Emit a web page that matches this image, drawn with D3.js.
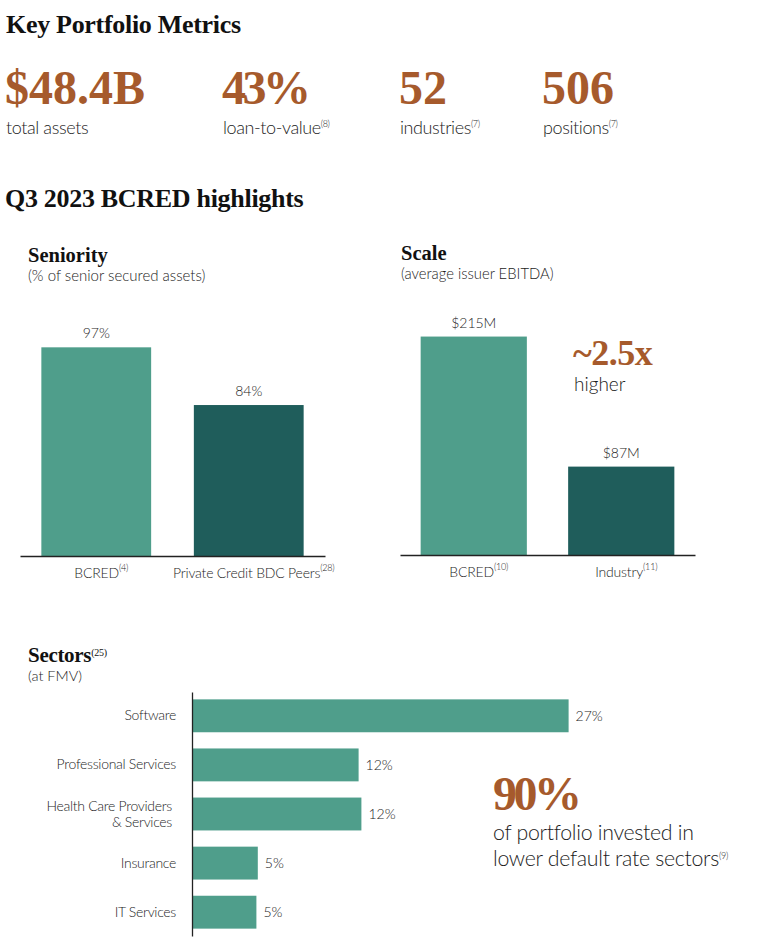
<!DOCTYPE html>
<html>
<head>
<meta charset="utf-8">
<script src="https://cdn.jsdelivr.net/npm/d3@7"></script>
<style>
  body { margin: 0; background: #fff; }
  svg text { font-family: Lato, "Open Sans", sans-serif; font-weight: 300; fill: #1c1c1c; }
  svg .serif { font-family: "Liberation Serif", "DejaVu Serif", serif; font-weight: bold; fill: #111; }
</style>
</head>
<body>
<svg id="chart" width="770" height="950"></svg>
<script>
// key metrics
let metricValues = ["$48.4B", "43%", "52", "506"];
let metricLabels = ["total assets", "loan-to-value", "industries", "positions"];
let metricNotes = ["", "(8)", "(7)", "(7)"];

// seniority
let seniorityCats = ["BCRED", "Private Credit BDC Peers"];
let seniorityNotes = ["(4)", "(28)"];
let seniorityValues = [97, 84];

// scale
let scaleCats = ["BCRED", "Industry"];
let scaleNotes = ["(10)", "(11)"];
let scaleValues = [215, 87];

// sectors
let sectorCats = ["Software", "Professional Services", "Health Care Providers & Services", "Insurance", "IT Services"];
let sectorValues = [26.9, 11.9, 12.1, 4.7, 4.6];

let brown = "#a65a2c";
let lightGreen = "#4f9e8b";
let darkGreen = "#1f5d5b";

let svg = d3.select("#chart");

let addNote = function (sel, note) {
    if (note) sel.append("tspan").attr("font-size", 9).attr("dy", -7).text(note);
}

// big brown numbers, "%" strings a bit tighter
let bigNumber = function (x, y, v) {
    return svg.append("text").attr("class", "serif").attr("x", x).attr("y", y)
        .attr("font-size", 48)
        .attr("letter-spacing", v.indexOf("%") >= 0 ? -3.5 : 0)
        .style("fill", brown).text(v);
}

//Titles
svg.append("text").attr("class", "serif").attr("x", 6).attr("y", 33)
    .attr("font-size", 26).attr("letter-spacing", -0.3).text("Key Portfolio Metrics");
svg.append("text").attr("class", "serif").attr("x", 5).attr("y", 207)
    .attr("font-size", 26).attr("letter-spacing", -0.3).text("Q3 2023 BCRED highlights");

//Metrics
let metricX = [5, 222, 399, 542];
metricValues.forEach(function (v, i) {
    bigNumber(metricX[i], 104, v);
    let t = svg.append("text").attr("x", metricX[i] + 1).attr("y", 134)
        .attr("font-size", 18).attr("letter-spacing", -0.4).text(metricLabels[i]);
    addNote(t, metricNotes[i]);
});

//Vertical bar chart
let verticalBars = function (opt) {
    let g = svg.append("g");
    g.append("text").attr("class", "serif").attr("x", opt.titleX).attr("y", opt.titleY)
        .attr("font-size", 20.5).text(opt.title);
    g.append("text").attr("x", opt.titleX).attr("y", opt.titleY + 19)
        .attr("font-size", opt.subSize).text(opt.subtitle);

    let xScale = d3.scaleBand()
        .domain(opt.cats)
        .range(opt.xRange)
        .paddingInner(0.28)
        .paddingOuter(0.14);
    let yScale = d3.scaleLinear()
        .domain(opt.yDomain)
        .range(opt.yRange);

    g.selectAll("rect").data(opt.values).enter().append("rect")
        .attr("x", (d, i) => xScale(opt.cats[i]))
        .attr("width", xScale.bandwidth())
        .attr("y", d => yScale(d))
        .attr("height", d => yScale(opt.yDomain[0]) - yScale(d))
        .attr("fill", (d, i) => i == 0 ? lightGreen : darkGreen);

    g.selectAll(".val").data(opt.values).enter().append("text")
        .attr("class", "val")
        .attr("x", (d, i) => xScale(opt.cats[i]) + xScale.bandwidth() / 2)
        .attr("y", d => yScale(d) - 9)
        .attr("text-anchor", "middle")
        .attr("font-size", 14)
        .text(opt.format);

    let axis = g.append("g")
        .attr("transform", `translate(0,${opt.yRange[0]})`)
        .call(d3.axisBottom(xScale).tickSize(0).tickSizeOuter(0).tickFormat(""));
    axis.select(".domain").attr("stroke", "#222").attr("stroke-width", 1.3);

    opt.cats.forEach(function (c, i) {
        let t = g.append("text")
            .attr("x", xScale(c) + xScale.bandwidth() / 2 + 5)
            .attr("y", opt.yRange[0] + 22)
            .attr("text-anchor", "middle")
            .attr("font-size", 14)
            .attr("letter-spacing", -0.2)
            .text(c);
        addNote(t, opt.notes[i]);
    });
    return g;
}

verticalBars({
    title: "Seniority", subtitle: "(% of senior secured  assets)", subSize: 15,
    titleX: 28, titleY: 262,
    cats: seniorityCats, notes: seniorityNotes, values: seniorityValues,
    xRange: [20, 325], yDomain: [50, 100], yRange: [556, 334],
    format: d => d + "%"
});

let scaleG = verticalBars({
    title: "Scale", subtitle: "(average issuer EBITDA)", subSize: 14.8,
    titleX: 401, titleY: 260,
    cats: scaleCats, notes: scaleNotes, values: scaleValues,
    xRange: [400, 695], yDomain: [0, 250], yRange: [555, 301],
    format: d => "$" + d + "M"
});
scaleG.append("text").attr("class", "serif").attr("x", 573).attr("y", 365)
    .attr("font-size", 36).attr("letter-spacing", -0.5).style("fill", brown).text("~2.5x");
scaleG.append("text").attr("x", 574).attr("y", 391)
    .attr("font-size", 19).text("higher");

//Sectors
svg.append("text").attr("class", "serif").attr("x", 28).attr("y", 662)
    .attr("font-size", 21).attr("letter-spacing", -0.3).text("Sectors")
    .append("tspan").attr("font-size", 10).attr("dy", -6).attr("font-weight", "normal").text("(25)");
svg.append("text").attr("x", 28).attr("y", 681).attr("font-size", 14.5).text("(at FMV)");

let sx = d3.scaleLinear().domain([0, 30]).range([192, 612]);
let sy = d3.scaleBand().domain(sectorCats).range([692, 936]).paddingInner(0.33).paddingOuter(0.15);

svg.append("g").selectAll("rect").data(sectorValues).enter().append("rect")
    .attr("x", sx(0))
    .attr("y", (d, i) => sy(sectorCats[i]))
    .attr("width", d => sx(d) - sx(0))
    .attr("height", sy.bandwidth())
    .attr("fill", lightGreen);

svg.append("g").selectAll("text").data(sectorValues).enter().append("text")
    .attr("x", d => sx(d) + 7)
    .attr("y", (d, i) => sy(sectorCats[i]) + sy.bandwidth() / 2 + 5)
    .attr("font-size", 14)
    .text(d => d3.format(".0f")(d) + "%");

let yAxis = svg.append("g")
    .attr("transform", `translate(${sx(0)},0)`)
    .call(d3.axisLeft(sy).tickSize(0).tickPadding(16).tickSizeOuter(0));
yAxis.select(".domain").attr("stroke", "#222").attr("stroke-width", 1.3);
yAxis.selectAll(".tick text")
    .attr("font-size", 14)
    .attr("letter-spacing", -0.3)
    .style("font-family", "Lato, sans-serif")
    .style("font-weight", 300)
    .style("fill", "#1c1c1c")
    .each(function (d) {
        if (d.indexOf("&") > 0) {
            let t = d3.select(this);
            let parts = d.split(" & ");
            t.text("");
            t.append("tspan").attr("x", -20).attr("dy", "-0.25em").text(parts[0]);
            t.append("tspan").attr("x", -20).attr("dy", "1.2em").text("& " + parts[1]);
        }
    });

//90% callout
bigNumber(493, 810, "90%");
svg.append("text").attr("x", 493).attr("y", 840).attr("font-size", 21.3)
    .attr("letter-spacing", -0.3).text("of portfolio invested in");
let lastLine = svg.append("text").attr("x", 493).attr("y", 866).attr("font-size", 21.3)
    .attr("letter-spacing", -0.3).text("lower default rate sectors");
addNote(lastLine, "(9)");
</script>
</body>
</html>
